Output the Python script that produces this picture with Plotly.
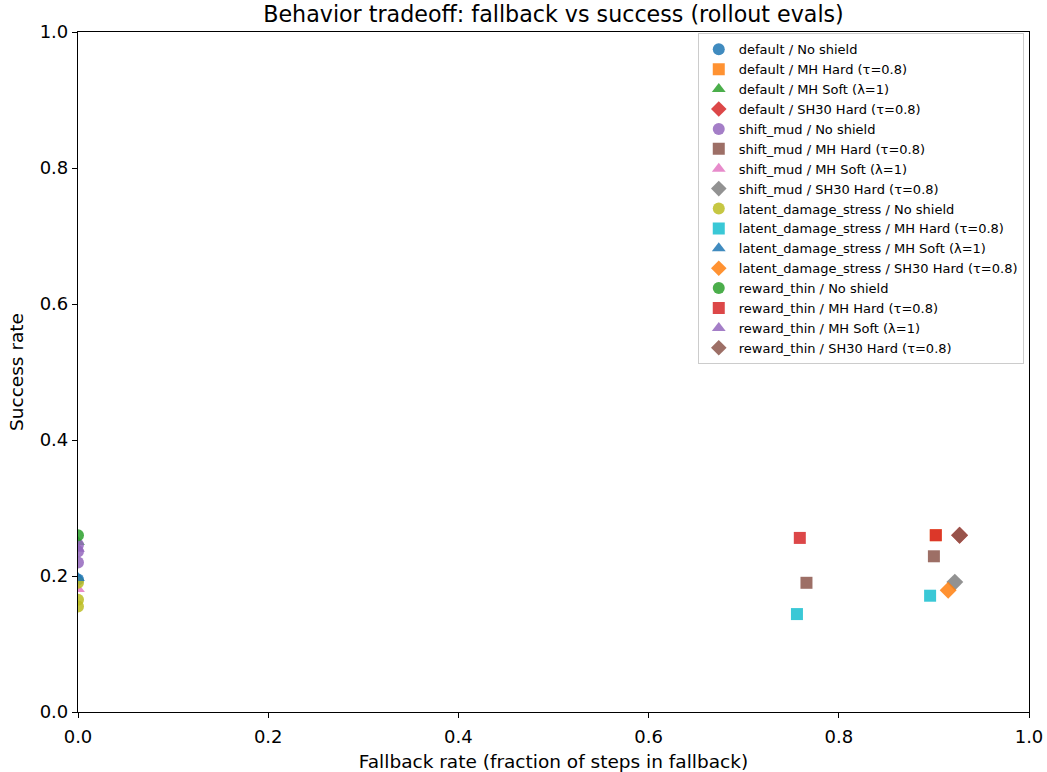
import plotly.graph_objects as go

# Environments and shield configurations in the rollout evaluation
envs = ["default", "shift_mud", "latent_damage_stress", "reward_thin"]
shields = ["No shield", "MH Hard (τ=0.8)", "MH Soft (λ=1)", "SH30 Hard (τ=0.8)"]

# Fallback rate (x) and success rate (y) per environment / shield
fallback = {
    ("default", "No shield"): [0.0],
    ("default", "MH Hard (τ=0.8)"): [0.902],
    ("default", "MH Soft (λ=1)"): [0.0],
    ("default", "SH30 Hard (τ=0.8)"): [0.927],
    ("shift_mud", "No shield"): [0.0, 0.0, 0.0],
    ("shift_mud", "MH Hard (τ=0.8)"): [0.766, 0.900],
    ("shift_mud", "MH Soft (λ=1)"): [0.0],
    ("shift_mud", "SH30 Hard (τ=0.8)"): [0.922],
    ("latent_damage_stress", "No shield"): [0.0, 0.0, 0.0],
    ("latent_damage_stress", "MH Hard (τ=0.8)"): [0.756, 0.896],
    ("latent_damage_stress", "MH Soft (λ=1)"): [0.0],
    ("latent_damage_stress", "SH30 Hard (τ=0.8)"): [0.915],
    ("reward_thin", "No shield"): [0.0],
    ("reward_thin", "MH Hard (τ=0.8)"): [0.759, 0.902],
    ("reward_thin", "MH Soft (λ=1)"): [0.0],
    ("reward_thin", "SH30 Hard (τ=0.8)"): [0.927],
}
success = {
    ("default", "No shield"): [0.195],
    ("default", "MH Hard (τ=0.8)"): [0.260],
    ("default", "MH Soft (λ=1)"): [0.250],
    ("default", "SH30 Hard (τ=0.8)"): [0.260],
    ("shift_mud", "No shield"): [0.246, 0.236, 0.220],
    ("shift_mud", "MH Hard (τ=0.8)"): [0.190, 0.229],
    ("shift_mud", "MH Soft (λ=1)"): [0.181],
    ("shift_mud", "SH30 Hard (τ=0.8)"): [0.191],
    ("latent_damage_stress", "No shield"): [0.190, 0.165, 0.155],
    ("latent_damage_stress", "MH Hard (τ=0.8)"): [0.144, 0.171],
    ("latent_damage_stress", "MH Soft (λ=1)"): [0.197],
    ("latent_damage_stress", "SH30 Hard (τ=0.8)"): [0.179],
    ("reward_thin", "No shield"): [0.260],
    ("reward_thin", "MH Hard (τ=0.8)"): [0.256, 0.260],
    ("reward_thin", "MH Soft (λ=1)"): [0.240],
    ("reward_thin", "SH30 Hard (τ=0.8)"): [0.260],
}

palette = ["#1f77b4", "#ff7f0e", "#2ca02c", "#d62728", "#9467bd",
           "#8c564b", "#e377c2", "#7f7f7f", "#bcbd22", "#17becf"]
symbols = {"No shield": "circle", "MH Hard (τ=0.8)": "square",
           "MH Soft (λ=1)": "triangle-up", "SH30 Hard (τ=0.8)": "diamond"}
sizes = {"No shield": 12, "MH Hard (τ=0.8)": 12,
         "MH Soft (λ=1)": 12, "SH30 Hard (τ=0.8)": 13}

fig = go.Figure()
i = 0
for env in envs:
    for sh in shields:
        fig.add_trace(go.Scatter(
            x=fallback[(env, sh)], y=success[(env, sh)],
            mode="markers", name=f"{env} / {sh}",
            marker=dict(symbol=symbols[sh], size=sizes[sh],
                        color=palette[i % len(palette)], opacity=0.85,
                        line=dict(width=0)),
        ))
        i += 1

axis_common = dict(
    range=[0, 1], dtick=0.2, tickformat=".1f", showgrid=False, zeroline=False,
    showline=True, linecolor="black", linewidth=1.2, mirror=True,
    ticks="outside", ticklen=5, tickwidth=1.2, tickcolor="black",
    tickfont=dict(size=18, color="black"),
)
fig.update_xaxes(**axis_common, ticklabelstandoff=3,
                 title=dict(text="Fallback rate (fraction of steps in fallback)",
                            font=dict(size=18.5, color="black"), standoff=9))
fig.update_yaxes(**axis_common,
                 title=dict(text="Success rate", font=dict(size=18.5, color="black"),
                            standoff=11))

fig.update_layout(
    width=1047, height=772,
    margin=dict(l=78, r=18, t=32, b=60, autoexpand=False),
    plot_bgcolor="white", paper_bgcolor="white",
    font=dict(family="DejaVu Sans", color="black"),
    title=dict(text="Behavior tradeoff: fallback vs success (rollout evals)",
               x=0.5, xref="paper", xanchor="center", y=0.982, yanchor="middle",
               font=dict(size=22.2, color="black")),
    legend=dict(x=0.9945, y=0.998, xanchor="right", yanchor="top",
                bgcolor="rgba(255,255,255,0.8)", bordercolor="#cccccc",
                borderwidth=1, font=dict(size=13), tracegroupgap=0,
                itemsizing="constant"),
)

fig.write_html("out.html")
